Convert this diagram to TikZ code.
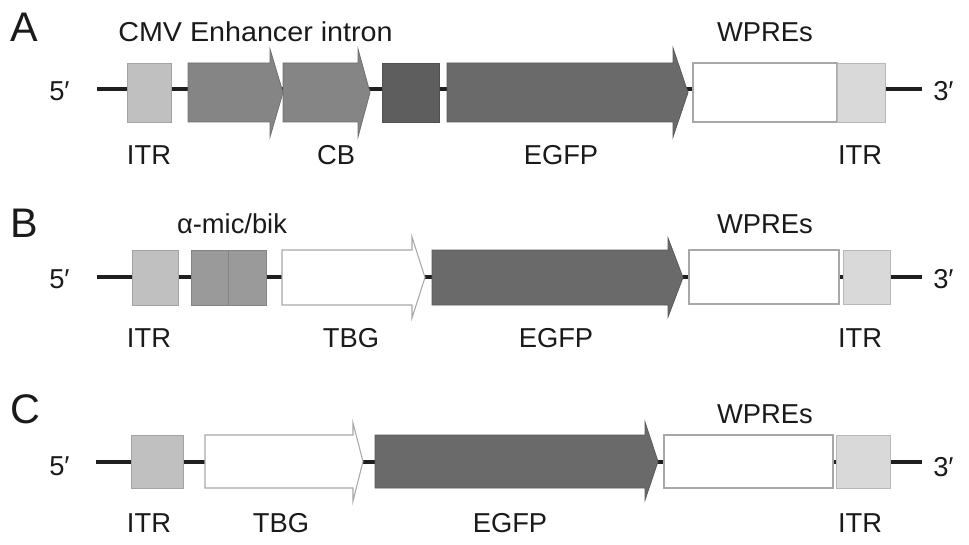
\documentclass[tikz,border=0pt]{standalone}
\usepackage{fontspec}
\setmainfont{Liberation Sans}
\definecolor{itrL}{HTML}{C0C0C0}
\definecolor{itrR}{HTML}{D9D9D9}
\definecolor{cmvc}{HTML}{858585}
\definecolor{darkc}{HTML}{5E5E5E}
\definecolor{egfpc}{HTML}{6A6A6A}
\definecolor{micc}{HTML}{9A9A9A}
\definecolor{outl}{HTML}{A8A8A8}
\definecolor{txt}{HTML}{1A1A1A}
% name, x1, x2, y1, y2, fill
\newcommand\gbox[6]{%
  \path[draw=#6!85!black, fill=#6, line width=0.6pt] (#2,#4) rectangle (#3,#5);
  \coordinate (#1) at ({(#2+#3)/2},{(#4+#5)/2});}
\newcommand\wbox[5]{%
  \path[draw=outl, fill=white, line width=0.8pt] (#2,#4) rectangle (#3,#5);
  \coordinate (#1) at ({(#2+#3)/2},{(#4+#5)/2});}
% name, x1, xb, xt, yb1, yb2, yh1, yh2, fill
\newcommand\garrow[9]{%
  \path[draw=#9!85!black, fill=#9, line width=0.6pt, line join=miter]
    (#2,#5) -- (#3,#5) -- (#3,#7) -- (#4,{(#5+#6)/2}) -- (#3,#8) -- (#3,#6) -- (#2,#6) -- cycle;
  \coordinate (#1) at ({(#2+#4)/2},{(#5+#6)/2});}
\newcommand\warrow[8]{%
  \path[draw=outl, fill=white, line width=0.8pt, line join=miter]
    (#2,#5) -- (#3,#5) -- (#3,#7) -- (#4,{(#5+#6)/2}) -- (#3,#8) -- (#3,#6) -- (#2,#6) -- cycle;
  \coordinate (#1) at ({(#2+#4)/2},{(#5+#6)/2});}
\begin{document}
\begin{tikzpicture}[x=0.75pt,y=-0.75pt,
  backbone/.style={line width=2.7pt, color=black!88},
  lbl/.style={anchor=base, inner sep=0pt, text=txt, font=\fontsize{20.5pt}{22pt}\selectfont},
  lblw/.style={anchor=base west, inner sep=0pt, text=txt, font=\fontsize{20.5pt}{22pt}\selectfont},
  panel/.style={anchor=base west, inner sep=0pt, text=txt, font=\fontsize{31pt}{33pt}\selectfont}]
\useasboundingbox (0,0) rectangle (969,545);
\fill[white] (0,0) rectangle (969,545);

% ---------------- Row A ----------------
\node[panel] (pA) at (10,42) {A};
\coordinate (a5) at (97,89);
\coordinate (a3) at (922,89);
\draw[backbone] (a5) -- (a3);
\gbox{aitrl}{127}{171}{63}{122}{itrL}
\garrow{acmv}{188}{270}{283}{63}{122}{49}{137}{cmvc}
\garrow{acb}{283}{358}{370}{63}{122}{49}{137}{cmvc}
\gbox{adark}{382}{439}{63}{122}{darkc}
\garrow{aegfp}{447}{673}{688}{63}{122}{48}{137}{egfpc}
\wbox{awpre}{693}{837}{63}{122}
\gbox{aitrr}{837}{885}{63}{122}{itrR}
\node[lblw] (a5t) at (49,101) {5′};
\node[lblw] (a3t) at (933,101) {3′};
\node[lblw, xscale=1.05] (acmvt) at (118,42) {CMV Enhancer intron};
\node[lbl] (awpret) at (765,42) {WPREs};
\node[lbl] (aitrlt) at (149,165) {ITR};
\node[lbl] (acbt) at (336,165) {CB};
\node[lbl] (aegfpt) at (561,165) {EGFP};
\node[lbl] (aitrrt) at (860,165) {ITR};

% ---------------- Row B ----------------
\node[panel] (pB) at (10,237) {B};
\coordinate (b5) at (97,277);
\coordinate (b3) at (922,277);
\draw[backbone] (b5) -- (b3);
\gbox{bitrl}{132}{178}{250}{305}{itrL}
\gbox{bmic1}{191}{228}{250}{305}{micc}
\gbox{bmic2}{228}{266}{250}{305}{micc}
\warrow{btbg}{282}{412}{425}{250}{305}{237}{318}
\garrow{begfp}{432}{668}{683}{250}{305}{238}{317}{egfpc}
\wbox{bwpre}{689}{839}{250}{304}
\gbox{bitrr}{843}{890}{250}{304}{itrR}
\node[lblw] (b5t) at (49,288) {5′};
\node[lblw] (b3t) at (933,288) {3′};
\node[lbl] (bmict) at (232,233) {α-mic/bik};
\node[lbl] (bwpret) at (765,233) {WPREs};
\node[lbl] (bitrlt) at (149,347) {ITR};
\node[lbl] (btbgt) at (351,347) {TBG};
\node[lbl] (begfpt) at (556,347) {EGFP};
\node[lbl] (bitrrt) at (860,347) {ITR};

% ---------------- Row C ----------------
\node[panel] (pC) at (10,423) {C};
\coordinate (c5) at (96,462);
\coordinate (c3) at (922,462);
\draw[backbone] (c5) -- (c3);
\gbox{citrl}{131}{183}{435}{488}{itrL}
\warrow{ctbg}{205}{353}{363}{435}{488}{423}{501}
\garrow{cegfp}{375}{645}{658}{435}{488}{422}{500}{egfpc}
\wbox{cwpre}{664}{833}{435}{488}
\gbox{citrr}{836}{890}{435}{488}{itrR}
\node[lblw] (c5t) at (49,475) {5′};
\node[lblw] (c3t) at (933,476) {3′};
\node[lbl] (cwpret) at (765,423) {WPREs};
\node[lbl] (citrlt) at (149,532) {ITR};
\node[lbl] (ctbgt) at (281,532) {TBG};
\node[lbl] (cegfpt) at (510,532) {EGFP};
\node[lbl] (citrrt) at (860,532) {ITR};
\end{tikzpicture}
\end{document}
